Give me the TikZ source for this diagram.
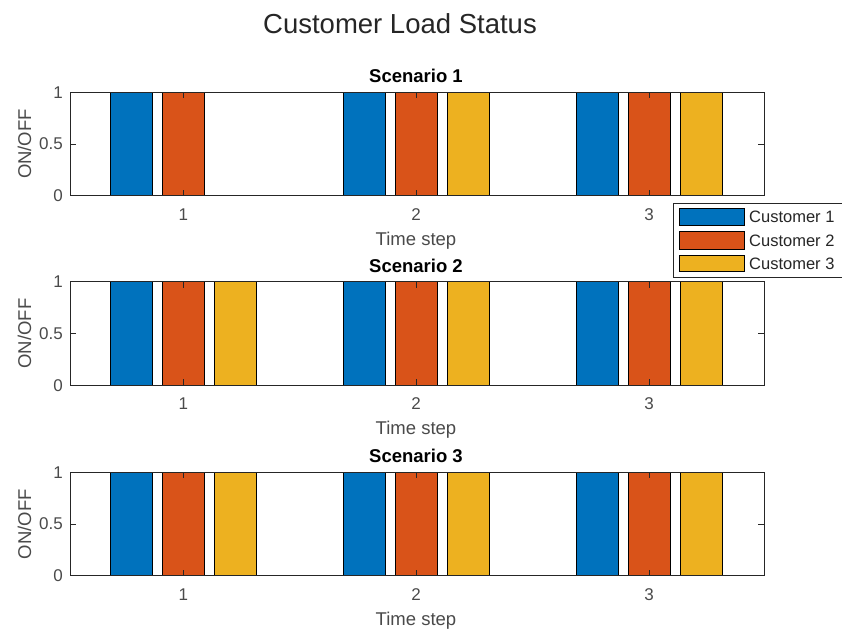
\documentclass[tikz,border=0pt]{standalone}
\usepackage{fontspec}
\setmainfont{Liberation Sans}
\definecolor{cone}{HTML}{0072BD}
\definecolor{ctwo}{HTML}{D95319}
\definecolor{cthree}{HTML}{EDB120}
\definecolor{axgray}{HTML}{262626}
\definecolor{lblgray}{HTML}{4A4A4A}

\begin{document}
\begin{tikzpicture}[x=1pt,y=-1pt,
  barbox/.style={draw=black, line width=0.9pt},
  axframe/.style={draw=axgray, line width=0.8pt},
  axtick/.style={draw=axgray, line width=0.8pt},
  ticklbl/.style={text=lblgray, inner sep=0pt, font=\fontsize{17}{19}\selectfont},
  axlbl/.style={text=lblgray, inner sep=0pt, font=\fontsize{18.5}{21}\selectfont},
  sctitle/.style={text=black, inner sep=0pt, font=\fontsize{18.5}{21}\selectfont\bfseries},
  legtxt/.style={text=axgray, inner sep=0pt, anchor=base west, font=\fontsize{16.5}{18}\selectfont},
  legpatch/.style={draw=black, line width=0.9pt}]
\useasboundingbox (0,0) rectangle (842,629);

% one subplot: #1 = top edge, #2 = scenario number, #3 = bars as group/series/colour
\newcommand\drawpanel[3]{%
  \foreach \g/\s/\col in {#3} {
    \pgfmathsetmacro\cx{183.3+232.9*(\g-1)+52*(\s-2)}
    \draw[barbox, fill=\col] (\cx-21,#1) rectangle (\cx+21,#1+103.5);
  }
  \foreach \g in {1,2,3} {
    \pgfmathsetmacro\tx{183.3+232.9*(\g-1)}
    \draw[axtick] (\tx,#1+103.5) -- ++(0,-6);
    \draw[axtick] (\tx,#1) -- ++(0,6);
    \node[ticklbl, anchor=base] (xt#2\g) at (\tx,#1+128) {\g};
  }
  \draw[axtick] (70,#1+51.75) -- ++(6,0);
  \draw[axtick] (764,#1+51.75) -- ++(-6,0);
  \draw[axframe] (70,#1) rectangle (764,#1+103.5);
  \node[ticklbl, anchor=base east] (ya#2) at (63,#1+6) {1};
  \node[ticklbl, anchor=base east] (yb#2) at (63,#1+57.5) {0.5};
  \node[ticklbl, anchor=base east] (yc#2) at (63,#1+109.5) {0};
  \node[axlbl, rotate=90] (yl#2) at (24.5,#1+51.75) {ON/OFF};
  \node[axlbl, anchor=base] (xl#2) at (416,#1+153) {Time step};
  \node[sctitle, anchor=base] (st#2) at (416,#1-9.5) {Scenario #2};
}

\drawpanel{92.3}{1}{1/1/cone,1/2/ctwo,2/1/cone,2/2/ctwo,2/3/cthree,3/1/cone,3/2/ctwo,3/3/cthree}
\drawpanel{281.8}{2}{1/1/cone,1/2/ctwo,1/3/cthree,2/1/cone,2/2/ctwo,2/3/cthree,3/1/cone,3/2/ctwo,3/3/cthree}
\drawpanel{472.3}{3}{1/1/cone,1/2/ctwo,1/3/cthree,2/1/cone,2/2/ctwo,2/3/cthree,3/1/cone,3/2/ctwo,3/3/cthree}

% figure title
\node[text=axgray, inner sep=0pt, anchor=base, font=\fontsize{27.5}{31}\selectfont] (title) at (400,33) {Customer Load Status};

% legend
\draw[draw=axgray, fill=white, line width=0.7pt] (673,203) rectangle (850,277);
\draw[legpatch, fill=cone] (679.5,208) rectangle (744,225.5);
\draw[legpatch, fill=ctwo] (679.5,231.8) rectangle (744,249.3);
\draw[legpatch, fill=cthree] (679.5,255) rectangle (744,271.8);
\node[legtxt] (lg1) at (749,222.8) {Customer 1};
\node[legtxt] (lg2) at (749,246.5) {Customer 2};
\node[legtxt] (lg3) at (749,269.3) {Customer 3};
\end{tikzpicture}
\end{document}
